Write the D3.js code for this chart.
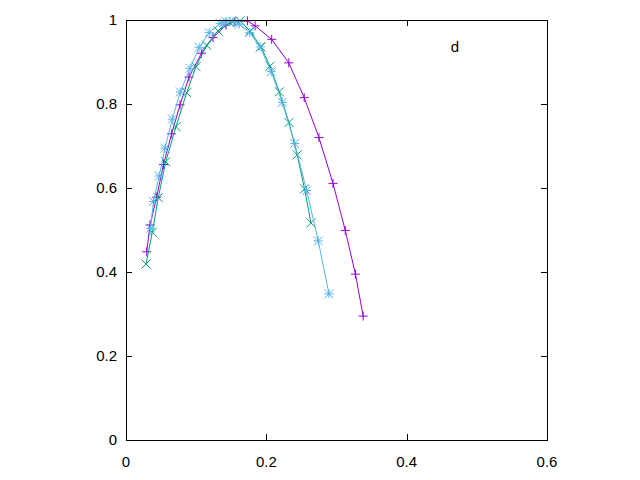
<!DOCTYPE html>
<html>
<head>
<meta charset="utf-8">
<script src="https://cdn.jsdelivr.net/npm/d3@7"></script>
<style>
  body { margin: 0; background: #fff; }
  svg { display: block; }
  text { font-family: "Liberation Sans", Arial, sans-serif; font-size: 15px; fill: #000; }
</style>
</head>
<body>
<script>
// Data
const seriesA = [[0.0295,0.448],[0.0342,0.512],[0.0437,0.578],[0.0534,0.656],[0.0651,0.729],[0.077,0.798],[0.0898,0.864],[0.1076,0.921],[0.124,0.958],[0.1425,0.988],[0.155,0.996],[0.173,0.998],[0.184,0.986],[0.2076,0.954],[0.232,0.898],[0.254,0.815],[0.275,0.720],[0.295,0.611],[0.3125,0.499],[0.327,0.395],[0.338,0.295]];
const seriesB = [[0.0285,0.419],[0.0375,0.4945],[0.046,0.577],[0.0566,0.6626],[0.0713,0.746],[0.0865,0.827],[0.0998,0.889],[0.115,0.940],[0.131,0.974],[0.148,0.9936],[0.1625,0.998],[0.1767,0.974],[0.1924,0.936],[0.2052,0.890],[0.2185,0.829],[0.2323,0.756],[0.244,0.679],[0.2544,0.598],[0.2636,0.517]];
const seriesC = [[0.0349,0.504],[0.0392,0.568],[0.0473,0.6286],[0.0556,0.695],[0.066,0.764],[0.0774,0.8286],[0.0912,0.885],[0.1043,0.935],[0.1187,0.970],[0.134,0.992],[0.1425,0.996],[0.1525,0.996],[0.1615,0.990],[0.1763,0.970],[0.191,0.936],[0.207,0.877],[0.2227,0.804],[0.2404,0.706],[0.2575,0.594],[0.274,0.474],[0.2893,0.348]];
const xTicks = [0, 0.2, 0.4, 0.6];
const yTicks = [0, 0.2, 0.4, 0.6, 0.8, 1];
const labelText = 'd';

const width = 640, height = 480;
const margin = { top: 20, right: 93, bottom: 40, left: 126 };

const svg = d3.select('body').append('svg')
    .attr('width', width)
    .attr('height', height);

const x = d3.scaleLinear().domain([0, 0.6]).range([margin.left, width - margin.right]);
const y = d3.scaleLinear().domain([0, 1]).range([height - margin.bottom, margin.top]);

const tickLen = 6;

// Tick marks, mirrored on all four sides (gnuplot style)
const ticks = svg.append('g').attr('stroke', '#000').attr('stroke-width', 1);
xTicks.forEach(t => {
    const px = Math.round(x(t)) + 0.5;
    ticks.append('line').attr('x1', px).attr('x2', px).attr('y1', y(0)).attr('y2', y(0) - tickLen);
    ticks.append('line').attr('x1', px).attr('x2', px).attr('y1', y(1)).attr('y2', y(1) + tickLen);
});
yTicks.forEach(t => {
    const py = Math.round(y(t)) + 0.5;
    ticks.append('line').attr('x1', x(0)).attr('x2', x(0) + tickLen).attr('y1', py).attr('y2', py);
    ticks.append('line').attr('x1', x(0.6)).attr('x2', x(0.6) - tickLen).attr('y1', py).attr('y2', py);
});

// Tick labels
svg.append('g').selectAll('text')
    .data(xTicks)
    .join('text')
    .attr('x', d => x(d))
    .attr('y', y(0) + 27)
    .attr('text-anchor', 'middle')
    .text(d => d3.format('~g')(d));

svg.append('g').selectAll('text')
    .data(yTicks)
    .join('text')
    .attr('x', x(0) - 9)
    .attr('y', d => y(d) + 5)
    .attr('text-anchor', 'end')
    .text(d => d3.format('~g')(d));

// Series
const line = d3.line().x(d => x(d[0])).y(d => y(d[1]));
const series = [
    { data: seriesA, color: '#9400d3', mark: 'plus' },
    { data: seriesB, color: '#009e73', mark: 'cross' },
    { data: seriesC, color: '#56b4e9', mark: 'star' }
];

const r = 4.5;
function markPath(kind) {
    const p = d3.path();
    if (kind === 'plus' || kind === 'star') {
        p.moveTo(-r, 0); p.lineTo(r, 0);
        p.moveTo(0, -r); p.lineTo(0, r);
    }
    if (kind === 'cross' || kind === 'star') {
        p.moveTo(-r, -r); p.lineTo(r, r);
        p.moveTo(-r, r); p.lineTo(r, -r);
    }
    return p.toString();
}

series.forEach(s => {
    const g = svg.append('g');
    g.append('path')
        .attr('d', line(s.data))
        .attr('fill', 'none')
        .attr('stroke', s.color)
        .attr('stroke-width', 1);
    g.selectAll('path.mark')
        .data(s.data)
        .join('path')
        .attr('class', 'mark')
        .attr('transform', d => `translate(${x(d[0])},${y(d[1])})`)
        .attr('d', markPath(s.mark))
        .attr('fill', 'none')
        .attr('stroke', s.color)
        .attr('stroke-width', 1);
});

// Border
svg.append('rect')
    .attr('x', x(0) + 0.5)
    .attr('y', y(1) + 0.5)
    .attr('width', x(0.6) - x(0))
    .attr('height', y(0) - y(1))
    .attr('fill', 'none')
    .attr('stroke', '#000')
    .attr('stroke-width', 1);

// Label
svg.append('text')
    .attr('x', 455)
    .attr('y', 52)
    .attr('text-anchor', 'middle')
    .text(labelText);
</script>
</body>
</html>
